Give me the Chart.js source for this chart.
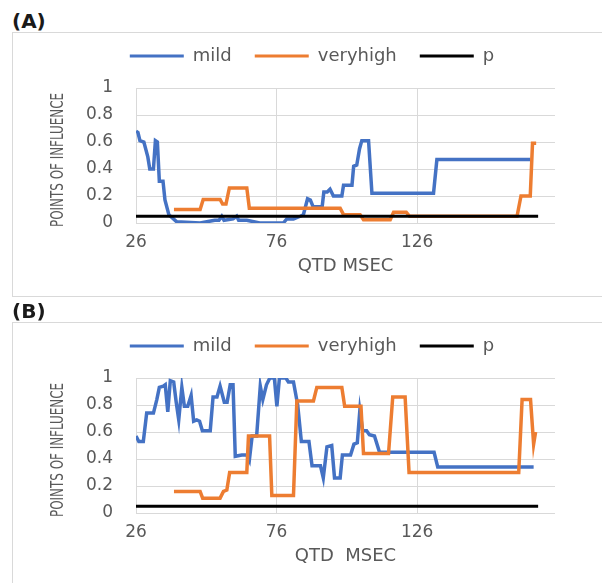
<!DOCTYPE html>
<html>
<head>
<meta charset="utf-8">
<script src="https://cdn.jsdelivr.net/npm/chart.js@4.4.0/dist/chart.umd.min.js"></script>
<style>
  body { margin: 0; background: #fff; width: 602px; height: 583px; overflow: hidden; position: relative; }
  .panel { position: absolute; left: 0; width: 602px; height: 290px; }
  .tag { position: absolute; left: 12px; top: 9px; font: bold 20px/24px "DejaVu Sans", sans-serif; color: #1a1a1a; }
  .box { position: absolute; left: 12px; top: 32px; width: 620px; height: 263px; border: 1px solid #d9d9d9; }
  .box canvas { position: absolute; left: 0; top: 0; }
</style>
</head>
<body>
<div class="panel" style="top:0">
  <div class="tag">(A)</div>
  <div class="box"><canvas id="chartA" width="589" height="263"></canvas></div>
</div>
<div class="panel" style="top:290px">
  <div class="tag">(B)</div>
  <div class="box"><canvas id="chartB" width="589" height="263"></canvas></div>
</div>
<script>
// Tick labels / legend names
const seriesNames = ['mild', 'veryhigh', 'p'];
const xTicks = [26, 76, 126];

// Panel A - mild
const mildAx = [26, 26.7, 27.4, 28.8, 30.2, 30.9, 32.2, 32.9, 33.6, 34.3, 35.6, 36.3, 37.7, 40.4,
  48.8, 54, 55.5, 56.5, 57.3, 60.5, 61.8, 62.5, 65.4, 70, 78.4, 79.6, 82, 84.4, 85.5, 87, 88, 89,
  92.2, 92.8, 94, 95, 96.2, 99.2, 99.8, 102.8, 103.4, 104.5, 105.5, 106.3, 108.7, 109.9, 131.8, 133, 166.2];
const mildAy = [0.68, 0.67, 0.61, 0.6, 0.49, 0.4, 0.4, 0.61, 0.6, 0.31, 0.31, 0.17, 0.06, 0.01,
  0, 0.02, 0.02, 0.05, 0.02, 0.03, 0.05, 0.02, 0.02, 0, 0, 0.03, 0.03, 0.05, 0.06, 0.18, 0.17, 0.12,
  0.12, 0.23, 0.23, 0.25, 0.2, 0.2, 0.28, 0.28, 0.42, 0.43, 0.55, 0.61, 0.61, 0.22, 0.22, 0.47, 0.47];

// Panel A - veryhigh
const veryAx = [39.5, 48.8, 49.9, 55.9, 56.8, 58, 59.2, 65.4, 66.3, 98.6, 99.8, 105.7, 106.9, 116.4,
  117.6, 122.1, 123.3, 161.5, 162.9, 166.2, 167, 168.3];
const veryAy = [0.1, 0.1, 0.175, 0.175, 0.14, 0.14, 0.26, 0.26, 0.11, 0.11, 0.062, 0.062, 0.025, 0.025,
  0.08, 0.08, 0.05, 0.05, 0.2, 0.2, 0.59, 0.59];

// Panel B - mild
const mildBx = [26, 27, 28.6, 29.8, 32.2, 33.4, 34.3, 35.7, 36.4, 37.3, 38.2, 39.4, 40.3, 41.2, 42.3,
  43.2, 44.4, 45.6, 46.5, 47.6, 48.6, 49.6, 52.4, 53.4, 54.8, 55.9, 57.4, 58.4, 59.5, 60.5, 61.3,
  63.6, 65.4, 66.3, 67.3, 68.9, 70.2, 71.1, 72.4, 73.6, 75.2, 76.1, 77, 79.3, 80.2, 82, 83.5, 84.8,
  87.5, 88.6, 91.6, 92.6, 93.9, 95.6, 96.6, 98.6, 99.4, 102.3, 103.5, 104.7, 105.6, 106.6, 108, 109,
  110.8, 112.6, 132, 133.3, 167.4];
const mildBy = [0.57, 0.53, 0.53, 0.74, 0.74, 0.84, 0.93, 0.94, 0.95, 0.75, 0.98, 0.97, 0.82, 0.69, 0.93,
  0.79, 0.79, 0.87, 0.68, 0.69, 0.68, 0.61, 0.61, 0.86, 0.86, 0.94, 0.82, 0.82, 0.95, 0.95, 0.42,
  0.43, 0.43, 0.39, 0.57, 0.57, 0.94, 0.84, 0.95, 1.0, 1.0, 0.79, 1.0, 1.0, 0.97, 0.97, 0.8, 0.53,
  0.53, 0.35, 0.35, 0.26, 0.49, 0.5, 0.26, 0.26, 0.43, 0.43, 0.51, 0.52, 0.76, 0.61, 0.61, 0.58,
  0.57, 0.45, 0.45, 0.34, 0.34];

// Panel B - veryhigh
const veryBx = [39.5, 48.8, 49.7, 55.9, 57.1, 58.3, 59.3, 65.4, 66, 73.5, 74.3, 82, 83.2, 89.1, 90.3,
  99.2, 100.2, 106, 106.9, 115.8, 117.3, 121.7, 123.1, 162.1, 163.3, 166.3, 167.4, 168.1];
const veryBy = [0.16, 0.16, 0.11, 0.11, 0.16, 0.17, 0.3, 0.3, 0.57, 0.57, 0.13, 0.13, 0.83, 0.83, 0.93,
  0.93, 0.79, 0.79, 0.44, 0.44, 0.86, 0.86, 0.3, 0.3, 0.84, 0.84, 0.51, 0.6];

// p (same for both panels)
const pX = [26, 169];
const pY = [0.05, 0.05];

const FONT = '"DejaVu Sans", sans-serif';
const GREY = '#595959';

function pts(xs, ys) {
  return xs.map((x, i) => ({ x: x, y: ys[i] }));
}

// draws the squeezed, rotated y axis title
const yTitlePlugin = {
  id: 'yTitle',
  afterDraw(chart, args, opts) {
    const ctx = chart.ctx;
    ctx.save();
    ctx.font = '18px ' + FONT;
    ctx.fillStyle = GREY;
    ctx.textAlign = 'center';
    ctx.textBaseline = 'middle';
    const w = ctx.measureText(opts.text).width;
    ctx.translate(opts.x, opts.y);
    ctx.rotate(-Math.PI / 2);
    ctx.scale(opts.length / w, 1);
    ctx.fillText(opts.text, 0, 0);
    ctx.restore();
  }
};

// moves the legend up closer to the top of the frame
const legendShiftPlugin = {
  id: 'legendShift',
  afterLayout(chart, args, opts) {
    chart.legend.top += opts.dy;
    chart.legend.bottom += opts.dy;
  }
};

function makeChart(id, mx, my, vx, vy, xTitle) {
  const line = (label, data, color, width, order) => ({
    label: label,
    data: data,
    borderColor: color,
    backgroundColor: color,
    borderWidth: width,
    pointRadius: 0,
    tension: 0,
    fill: false,
    order: order
  });

  return new Chart(document.getElementById(id), {
    type: 'line',
    data: {
      datasets: [
        line(seriesNames[0], pts(mx, my), '#4472C4', 3.5, 2),
        line(seriesNames[1], pts(vx, vy), '#ED7D31', 3.5, 1),
        line(seriesNames[2], pts(pX, pY), '#000000', 3, 0)
      ]
    },
    options: {
      responsive: false,
      devicePixelRatio: 1,
      animation: false,
      layout: { padding: { top: 0, left: 56, right: 47, bottom: 0 } },
      plugins: {
        legend: {
          position: 'top',
          labels: {
            boxWidth: 54,
            boxHeight: 3,
            padding: 23,
            color: GREY,
            font: { family: FONT, size: 18 },
            sort: (a, b) => a.datasetIndex - b.datasetIndex,
            generateLabels: chart => Chart.defaults.plugins.legend.labels.generateLabels(chart)
              .map(l => Object.assign(l, { fillStyle: l.strokeStyle, lineWidth: 0 }))
          }
        },
        legendShift: { dy: -13 },
        tooltip: { enabled: false },
        yTitle: { text: 'POINTS OF INFLUENCE', x: 45, y: 127, length: 134 }
      },
      scales: {
        x: {
          type: 'linear',
          min: 26,
          max: 175,
          afterBuildTicks: scale => { scale.ticks = xTicks.map(v => ({ value: v })); },
          afterFit: scale => { scale.height = 73; },
          grid: { color: '#d9d9d9', lineWidth: 1, drawTicks: false },
          border: { display: false },
          ticks: {
            padding: 9,
            color: GREY,
            font: { family: FONT, size: 17 },
            callback: v => String(v)
          },
          title: {
            display: true,
            text: xTitle,
            color: GREY,
            font: { family: FONT, size: 18 },
            padding: { top: 0, bottom: 19 }
          }
        },
        y: {
          min: 0,
          max: 1,
          afterFit: scale => { scale.width = 67; scale.paddingTop = 55; },
          grid: { color: '#d9d9d9', lineWidth: 1, drawTicks: false },
          border: { display: false },
          ticks: {
            stepSize: 0.2,
            padding: 23,
            color: GREY,
            font: { family: FONT, size: 17 },
            callback: v => String(+v.toFixed(1))
          }
        }
      }
    },
    plugins: [yTitlePlugin, legendShiftPlugin]
  });
}

makeChart('chartA', mildAx, mildAy, veryAx, veryAy, 'QTD MSEC');
makeChart('chartB', mildBx, mildBy, veryBx, veryBy, 'QTD  MSEC');
</script>
</body>
</html>
